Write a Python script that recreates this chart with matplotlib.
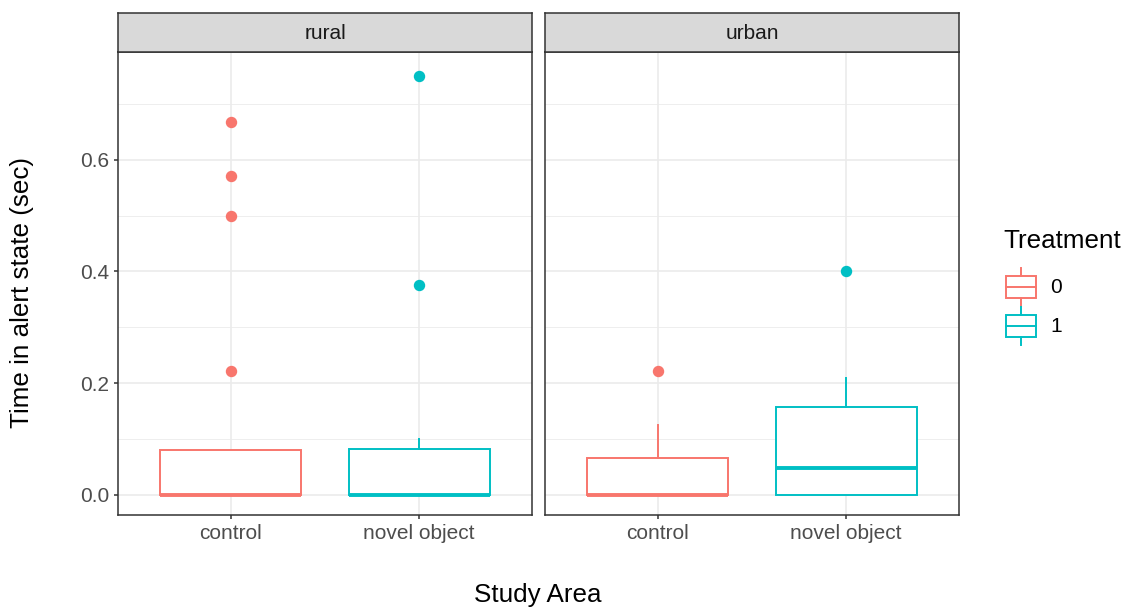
import matplotlib.pyplot as plt
from matplotlib.legend_handler import HandlerBase
from matplotlib.patches import Rectangle
from matplotlib.lines import Line2D

plt.rcParams['font.family'] = ['Liberation Sans', 'DejaVu Sans']

panels = ['rural', 'urban']
categories = ['control', 'novel object']
treatments = ['0', '1']
colors = ['#F8766D', '#00BFC4']

# box stats per panel: [control, novel object]
q1 = {'rural': [0.0, 0.0], 'urban': [0.0, 0.0]}
med = {'rural': [0.0, 0.0], 'urban': [0.0, 0.048]}
q3 = {'rural': [0.0805, 0.0815], 'urban': [0.0665, 0.157]}
whishi = {'rural': [0.0805, 0.1], 'urban': [0.125, 0.21]}
whislo = {'rural': [0.0, 0.0], 'urban': [0.0, 0.0]}
outliers = {
    'rural': [[0.667, 0.571, 0.5, 0.222], [0.75, 0.375]],
    'urban': [[0.222], [0.4]],
}

yticks = [0.0, 0.2, 0.4, 0.6]
ytick_labels = ['0.0', '0.2', '0.4', '0.6']
minor_ticks = [0.1, 0.3, 0.5, 0.7]

fig = plt.figure(figsize=(11.33, 6.09), dpi=100)

W, H = 1133, 609
panel_px = [(118, 532), (545, 959)]
top_px, bot_px = 52, 515
strip_top = 13

grid_c = '#EBEBEB'
border_c = '#333333'
text_c = '#4D4D4D'
small = 15
big = 18.75

for p, (l, r) in zip(panels, panel_px):
    ax = fig.add_axes([l / W, 1 - bot_px / H, (r - l) / W, (bot_px - top_px) / H])
    for i, cat in enumerate(categories):
        s = dict(med=med[p][i], q1=q1[p][i], q3=q3[p][i],
                 whislo=whislo[p][i], whishi=whishi[p][i],
                 fliers=outliers[p][i])
        c = colors[i]
        ax.bxp([s], positions=[i + 1], widths=0.75, showcaps=False,
               patch_artist=True,
               boxprops=dict(facecolor='white', edgecolor=c, linewidth=1.4),
               medianprops=dict(color=c, linewidth=2.8, solid_capstyle='butt'),
               whiskerprops=dict(color=c, linewidth=1.4),
               flierprops=dict(marker='o', markerfacecolor=c, markeredgecolor=c,
                               markersize=7.2, linestyle='none'),
               zorder=3)
    ax.set_xlim(0.4, 2.6)
    ax.set_ylim(-0.0358, 0.7925)
    ax.set_xticks([1, 2])
    ax.set_xticklabels(categories)
    ax.set_yticks(yticks)
    ax.set_yticks(minor_ticks, minor=True)
    ax.grid(True, which='major', color=grid_c, linewidth=1.2, zorder=0)
    ax.grid(True, which='minor', axis='y', color=grid_c, linewidth=0.6, zorder=0)
    ax.set_axisbelow(True)
    for sp in ax.spines.values():
        sp.set_color(border_c)
        sp.set_linewidth(1.1)
    ax.tick_params(axis='both', which='major', colors=border_c, labelcolor=text_c,
                   labelsize=small, length=3, width=1.1, pad=3.5)
    ax.tick_params(axis='y', which='minor', length=0)
    if p == 'urban':
        ax.tick_params(axis='y', which='major', left=False, labelleft=False)
    else:
        ax.set_yticklabels(ytick_labels)

    # facet strip
    sax = fig.add_axes([l / W, 1 - top_px / H, (r - l) / W, (top_px - strip_top) / H])
    sax.set_facecolor('#D9D9D9')
    sax.set_xticks([])
    sax.set_yticks([])
    for sp in sax.spines.values():
        sp.set_color(border_c)
        sp.set_linewidth(1.1)
    sax.text(0.5, 0.47, p, ha='center', va='center', fontsize=small, color='#1A1A1A',
             transform=sax.transAxes)

fig.text(22 / W, 1 - 292 / H, 'Time in alert state (sec)', rotation=90,
         ha='center', va='center', fontsize=big, color='black')
fig.text(538 / W, 1 - 595 / H, 'Study Area', ha='center', va='center',
         fontsize=big, color='black')


class BoxHandler(HandlerBase):
    def create_artists(self, legend, orig_handle, xdescent, ydescent, width, height,
                       fontsize, trans):
        c = orig_handle.get_edgecolor()
        x0 = -xdescent + width * 0.1
        x1 = -xdescent + width * 0.9
        y0 = -ydescent + height * 0.22
        y1 = -ydescent + height * 0.78
        xm = -xdescent + width / 2
        ym = -ydescent + height / 2
        return [
            Rectangle((x0, y0), x1 - x0, y1 - y0, fill=False, ec=c, lw=1.4, transform=trans),
            Line2D([x0, x1], [ym, ym], color=c, lw=1.4, transform=trans),
            Line2D([xm, xm], [y1, -ydescent + height], color=c, lw=1.4, transform=trans),
            Line2D([xm, xm], [-ydescent, y0], color=c, lw=1.4, transform=trans),
        ]


fig.text(1003 / W, 1 - 241 / H, 'Treatment', ha='left', va='center',
         fontsize=big, color='black')
handles = [Rectangle((0, 0), 1, 1, fill=False, ec=c) for c in colors]
leg = fig.legend(handles, treatments, loc='upper left',
                 bbox_to_anchor=(1002 / W, 1 - 268 / H), frameon=False,
                 handler_map={Rectangle: BoxHandler()}, fontsize=small,
                 handlelength=1.83, handleheight=2.43,
                 handletextpad=0.5, labelspacing=0.05, borderaxespad=0, borderpad=0)
for t in leg.get_texts():
    t.set_color('black')

fig.savefig('out.png', dpi=100)
